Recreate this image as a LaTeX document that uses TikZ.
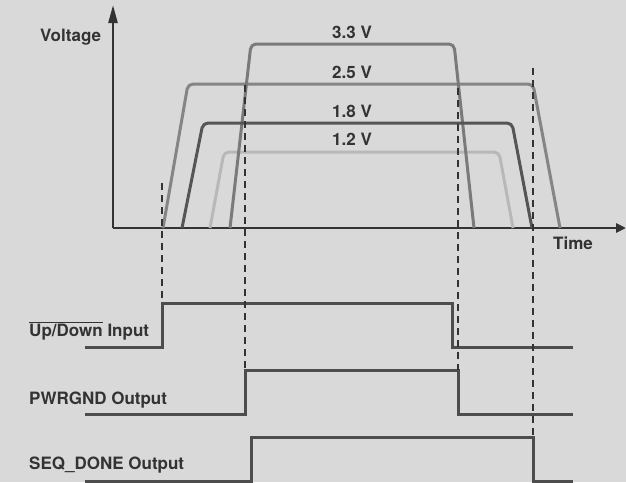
\documentclass[tikz,border=0pt]{standalone}
\usepackage{fontspec}
\setmainfont{TeX Gyre Heros}
\usetikzlibrary{arrows.meta}
\definecolor{bg}{HTML}{D9D9D9}
\definecolor{txt}{HTML}{333333}
\definecolor{axisc}{HTML}{333333}
\definecolor{sigc}{HTML}{4D4D4D}
\definecolor{vthree}{HTML}{7A7A7A}
\definecolor{vtwo}{HTML}{858585}
\definecolor{vone}{HTML}{555555}
\definecolor{vzero}{HTML}{B8B8B8}
\tikzset{
  lbl/.style={anchor=base west,inner sep=0pt,text=txt,font=\fontsize{17}{17}\selectfont\bfseries},
  vlbl/.style={anchor=base,inner sep=0pt,text=txt,font=\fontsize{17}{17}\selectfont\bfseries},
  wave/.style={line width=3pt,rounded corners=5pt,line join=round},
  sig/.style={line width=3pt,draw=sigc,line join=miter},
  guide/.style={line width=1.5pt,draw=axisc,dash pattern=on 7pt off 5pt},
  axisline/.style={line width=2.5pt,draw=axisc}
}
\begin{document}
\begin{tikzpicture}[x=1pt,y=-1pt]
\fill[bg] (0,0) rectangle (626,482);
\useasboundingbox (0,0) rectangle (626,482);
% axes
\coordinate (O) at (113,228);
\coordinate (ytip) at (113,5);
\coordinate (xtip) at (626,228);
\draw[axisline,-{Triangle[length=18pt,width=9pt]}] (O) -- (ytip);
\draw[axisline,-{Triangle[length=10pt,width=9pt]}] (O) -- (xtip);
\node[lbl] (voltage) at (40,41) {Voltage};
\node[lbl] (time) at (553,249) {Time};
% voltage waveforms
\draw[wave,draw=vzero] (210,228) -- (224,152) -- (499,152) -- (513,228);
\draw[wave,draw=vtwo] (163,228) -- (188,84) -- (533,84) -- (560,228);
\draw[wave,draw=vthree] (230,228) -- (251,44) -- (454,44) -- (474,228);
\draw[wave,draw=vone] (182,228) -- (203,123) -- (512,123) -- (532,228);
\node[vlbl] (v33) at (352,38) {3.3 V};
\node[vlbl] (v25) at (352,78) {2.5 V};
\node[vlbl] (v18) at (352,117) {1.8 V};
\node[vlbl] (v12) at (352,145) {1.2 V};
% signal labels
\node[lbl] (ud) at (29,336) {$\overline{\mbox{Up/Down}}$ Input};
\node[lbl] (pg) at (29,404) {PWRGND Output};
\node[lbl] (sd) at (29,469) {SEQ\_DONE Output};
% signals
\draw[sig] (85,347) -- (162,347) -- (162,303) -- (452,303) -- (452,347) -- (573,347);
\draw[sig] (85,414) -- (245,414) -- (245,370) -- (458,370) -- (458,414) -- (573,414);
\draw[sig] (85,481) -- (251,481) -- (251,437) -- (533,437) -- (533,481) -- (573,481);
% guides
\coordinate (g1a) at (162,183); \coordinate (g1b) at (162,303);
\coordinate (g2a) at (245,85);  \coordinate (g2b) at (245,370);
\coordinate (g3a) at (458,88);  \coordinate (g3b) at (458,370);
\coordinate (g4a) at (533,68);  \coordinate (g4b) at (533,437);
\draw[guide] (g1a) -- (g1b);
\draw[guide] (g2a) -- (g2b);
\draw[guide] (g3a) -- (g3b);
\draw[guide] (g4a) -- (g4b);
\end{tikzpicture}
\end{document}
